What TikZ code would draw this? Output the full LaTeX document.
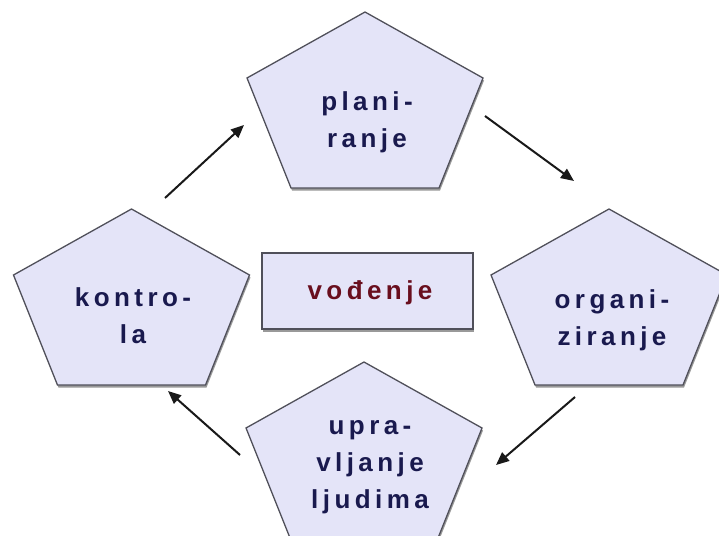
\documentclass[tikz,border=0pt]{standalone}
\usepackage{fontspec}
\usetikzlibrary{arrows.meta}
\newfontfamily\labfont{Liberation Sans Bold}[LetterSpace=17]
\definecolor{pfill}{RGB}{228,228,248}
\definecolor{pline}{RGB}{80,80,90}
\definecolor{ptext}{RGB}{25,25,78}
\definecolor{vtext}{RGB}{105,14,30}
\definecolor{arr}{RGB}{25,25,25}
\begin{document}
\begin{tikzpicture}[x=1pt,y=-1pt,
  pent/.style={fill=pfill,draw=pline,line width=1.3pt,line join=miter},
  shad/.style={fill=black!40},
  lbl/.style={text=ptext,font=\labfont\fontsize{26}{37}\selectfont,align=center,anchor=base,inner sep=0pt},
  vlbl/.style={text=vtext,font=\labfont\fontsize{26}{37}\selectfont,anchor=base,inner sep=0pt},
  arrowline/.style={draw=arr,line width=2pt,-{Triangle[length=13pt,width=11pt]}}]
\useasboundingbox (0,0) rectangle (719,535);
\fill[white] (0,0) rectangle (719,535);
\clip (0,0) rectangle (719,535);
\newcommand\drawpenta[2]{%
  \begin{scope}[shift={(#1,#2)}]
    \fill[shad] (1,2.5) -- (119,68.5) -- (75,178.5) -- (-73,178.5) -- (-117,68.5) -- cycle;
    \path[pent] (0,0) -- (118,66) -- (74,176) -- (-74,176) -- (-118,66) -- cycle;
  \end{scope}}
\drawpenta{365}{12}
\drawpenta{131.5}{209}
\drawpenta{609}{209}
\drawpenta{364}{362}
% central box
\fill[shad] (263,255.5) rectangle (474,331.5);
\path[pent] (262,253) rectangle (473,329);
\node[vlbl] (vod) at (370,299) {vođenje};
% labels (base anchor = last line)
\node[lbl] (plan) at (367,147) {plani-\\ranje};
\node[lbl] (kont) at (133,343) {kontro-\\la};
\node[lbl] (org) at (612,345) {organi-\\ziranje};
\node[lbl] (upr) at (370,508) {upra-\\vljanje\\ljudima};
% arrows
\coordinate (a1s) at (165,198); \coordinate (a1e) at (244,125);
\coordinate (a2s) at (485,116); \coordinate (a2e) at (574,181);
\coordinate (a3s) at (575,397); \coordinate (a3e) at (496,465);
\coordinate (a4s) at (240,455); \coordinate (a4e) at (168,391);
\draw[arrowline] (a1s) -- (a1e);
\draw[arrowline] (a2s) -- (a2e);
\draw[arrowline] (a3s) -- (a3e);
\draw[arrowline] (a4s) -- (a4e);
\end{tikzpicture}
\end{document}
